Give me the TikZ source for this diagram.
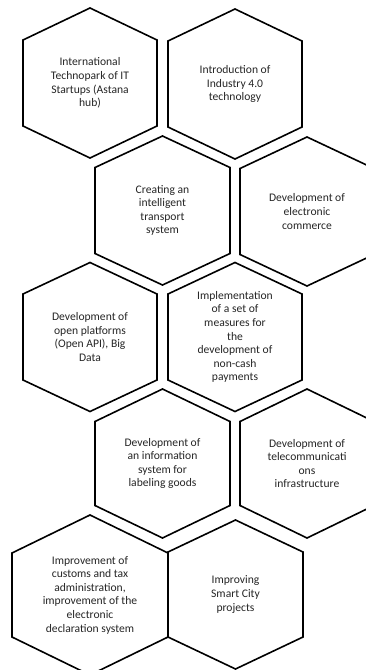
\documentclass[tikz,border=0pt]{standalone}
\usepackage{fontspec}
\setmainfont{Carlito}
\usetikzlibrary{calc}
\tikzset{hexline/.style={line width=1.6pt,line join=miter},
  cell/.style={align=center,inner sep=0pt,text=black!85,font=\fontsize{11.6}{13.6}\selectfont}}
% hexagon round a node: half width, half height, half of the straight side
\newcommand{\hexat}[4]{\draw[hexline] (#1.center) ++(0,-#3) -- ++(#2,#3-#4) -- ++(0,2*#4) -- ++(-#2,#3-#4) -- ++(-#2,-#3+#4) -- ++(0,-2*#4) -- cycle;}

\begin{document}
\begin{tikzpicture}[x=1pt,y=-1pt]
\fill[white] (0,0) rectangle (366,670);
\useasboundingbox (0,0) rectangle (366,670);
\clip (0,0) rectangle (366,670);
% --- row 1
\node[cell] (hub) at (90,83) {International\\Technopark of IT\\Startups (Astana\\hub)};
\node[cell] (ind) at (235,84) {Introduction of\\Industry 4.0\\technology};
\hexat{hub}{67}{75}{43} \hexat{ind}{67}{75}{43}
% --- row 2
\node[cell] (its) at (162.5,210.5) {Creating an\\intelligent\\transport\\system};
\node[cell] (ecom) at (307,211.5) {Development of\\electronic\\commerce};
\hexat{its}{67.5}{74.5}{43} \hexat{ecom}{67}{74.5}{43}
% --- row 3
\node[cell] (api) at (90,337) {Development of\\open platforms\\(Open API), Big\\Data};
\node[cell] (pay) at (235,337) {Implementation\\of a set of\\measures for\\the\\development of\\non-cash\\payments};
\hexat{api}{67}{74.5}{43} \hexat{pay}{67}{74.5}{43}
% --- row 4
\node[cell] (lab) at (162.5,463.5) {Development of\\an information\\system for\\labeling goods};
\node[cell] (tel) at (307,463.5) {Development of\\telecommunicati\\ons\\infrastructure};
\hexat{lab}{67.5}{74.5}{42} \hexat{tel}{67}{74.5}{42}
% --- row 5
\node[cell] (cus) at (90,595) {Improvement of\\customs and tax\\administration,\\improvement of the\\electronic\\declaration system};
\node[cell] (city) at (235.5,594.5) {Improving\\Smart City\\projects};
\hexat{cus}{78}{80}{42} \hexat{city}{67.5}{74.5}{42.5}
\end{tikzpicture}
\end{document}
